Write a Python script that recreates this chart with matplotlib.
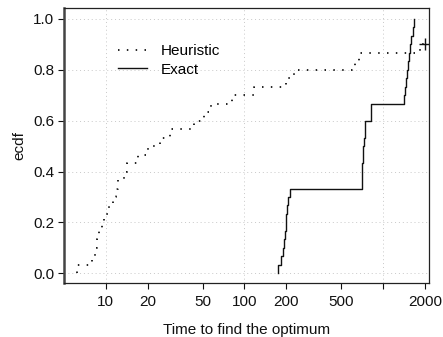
import numpy as np
import matplotlib
matplotlib.use("Agg")
import matplotlib.pyplot as plt
from matplotlib.ticker import FixedLocator, FixedFormatter, NullLocator

plt.rcParams['font.family'] = ['Liberation Sans', 'DejaVu Sans']

# run times (30 runs each); heuristic runs not finished are censored at the limit
n_runs = 30
heur_times = [6.2, 8.0, 8.3, 8.6, 9.0, 9.4, 9.7, 10.5, 11.2, 11.8, 12.3, 13.6,
              14.2, 17.1, 20.0, 24.8, 29, 43, 51, 57, 82, 118, 200, 228, 627,
              665, 1850]
heur_censored = [2000, 2000, 2000]
exact_times = [175, 183, 189, 194, 196, 198, 200, 202, 205, 213,
               703, 705, 710, 715, 722, 730, 738, 745, 815, 818,
               1420, 1440, 1460, 1490, 1520, 1545, 1575, 1600, 1635, 1670]

xticks = [10, 20, 50, 100, 200, 500, 1000, 2000]
xticklabels = ['10', '20', '50', '100', '200', '500', '', '2000']
yticks = [0.0, 0.2, 0.4, 0.6, 0.8, 1.0]


def ecdf_xy(times, n):
    t = np.sort(np.asarray(times, dtype=float))
    x = np.r_[t[0], t]
    y = np.r_[0, np.arange(1, len(t) + 1) / n]
    return x, y


fig = plt.figure(figsize=(4.43, 3.37), dpi=100)
ax = fig.add_axes([0.1445, 0.1611, 0.825, 0.8152])

hx, hy = ecdf_xy(heur_times, n_runs)
hx = np.r_[hx, heur_censored[0]]
hy = np.r_[hy, hy[-1]]
ex, ey = ecdf_xy(exact_times, n_runs)

ax.step(hx, hy, where='post', color='black', lw=1.2,
        linestyle=(0, (0.9, 4.4)), label='Heuristic')
ax.step(ex, ey, where='post', color='#111111', lw=1.0, label='Exact')
ax.plot(heur_censored[:1], hy[-1:], marker='+', ms=9, mew=1.0,
        color='#111111', linestyle='none')

ax.set_xscale('log')
ax.set_xlim(5.0, 2160)
ax.set_ylim(-0.037, 1.043)

ax.xaxis.set_major_locator(FixedLocator(xticks))
ax.xaxis.set_major_formatter(FixedFormatter(xticklabels))
ax.xaxis.set_minor_locator(NullLocator())
ax.set_yticks(yticks)
ax.set_yticklabels([f"{v:.1f}" for v in yticks])

# light dotted grid: every y tick, decades only on x
for v in yticks:
    ax.axhline(v, color='#c8c8c8', lw=0.7, linestyle=(0, (1, 3)), zorder=0)
for v in [10, 100, 1000]:
    ax.axvline(v, color='#c8c8c8', lw=0.7, linestyle=(0, (1, 3)), zorder=0)

ax.tick_params(axis='both', direction='out', length=4, width=0.8,
               labelsize=11, colors='#111111')
ax.tick_params(axis='x', pad=5)
ax.tick_params(axis='y', pad=3)
for s in ax.spines.values():
    s.set_color('#222222')
    s.set_linewidth(0.9)
ax.spines['left'].set_linewidth(1.8)
ax.spines['left'].set_color('#444444')

ax.set_xlabel('Time to find the optimum', fontsize=11, color='#111111', labelpad=10)
ax.set_ylabel('ecdf', fontsize=11, color='#111111', labelpad=5)

ax.legend(loc='upper left', bbox_to_anchor=(0.148, 0.868), frameon=False,
          fontsize=11, handlelength=1.9, handletextpad=0.9, labelspacing=0.3,
          borderpad=0, borderaxespad=0)

fig.savefig('out.png', dpi=100)
